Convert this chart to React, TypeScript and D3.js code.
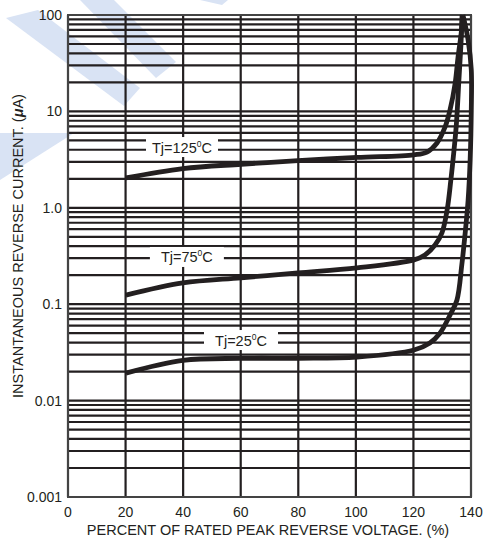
import React from "react";
import * as d3 from "d3";

// ---- data ----
const xTicks = [0, 20, 40, 60, 80, 100, 120, 140];
const yDecades = [100, 10, 1, 0.1, 0.01, 0.001];
const yTickLabels = ["100", "10", "1.0", "0.1", "0.01", "0.001"];

const v125 = [20.1, 39.9, 60.1, 79.9, 100.4, 120.2, 124.7, 128.2, 131.0, 132.7, 134.5, 135.5, 136.6, 137.1];
const i125 = [2.04, 2.55, 2.83, 3.08, 3.33, 3.55, 3.79, 4.7, 6.89, 10.3, 19.7, 36.6, 65, 100];

const v75 = [20.1, 39.9, 60.1, 79.9, 100.4, 120.2, 124.0, 127.5, 129.9, 131.7, 133.0, 134.1, 134.9, 135.8, 136.5, 136.9];
const i75 = [0.124, 0.166, 0.188, 0.211, 0.238, 0.288, 0.324, 0.411, 0.548, 0.948, 1.94, 3.98, 7.23, 21.2, 48.8, 100];

const v25 = [20.1, 39.9, 60.1, 79.9, 100.4, 120.2, 125.7, 129.2, 132.7, 135.1, 136.8, 137.9, 139.0, 139.7, 140.1, 140.1, 139.0, 137.2];
const i25 = [0.0193, 0.0262, 0.0274, 0.0275, 0.0283, 0.0335, 0.0396, 0.05, 0.077, 0.11, 0.255, 0.52, 1.2, 3.13, 10.3, 26.9, 55, 100];

const seriesNames = ["125", "75", "25"];
const labelV = [39.6, 41.3, 60.1];
const labelI = [4.27, 0.309, 0.0425];

const W = 487;
const H = 545;
const ink = "#231f20";
const font = "'Liberation Sans', Arial, Helvetica, sans-serif";

export default function App() {
  const x = d3.scaleLinear().domain([0, 140]).range([68, 471]);
  const y = d3.scaleLog().domain([0.001, 100]).range([497, 15]);

  const minor: number[] = [];
  [0.001, 0.01, 0.1, 1, 10].forEach((d) => {
    for (let k = 1; k <= 9; k++) {
      if (k === 1 && d === 0.001) continue;
      minor.push(k * d);
    }
  });

  const line = d3
    .line<[number, number]>()
    .x((d) => x(d[0]))
    .y((d) => y(d[1]))
    .curve(d3.curveCatmullRom.alpha(0.5));

  const series = [
    v125.map((v, i) => [v, i125[i]] as [number, number]),
    v75.map((v, i) => [v, i75[i]] as [number, number]),
    v25.map((v, i) => [v, i25[i]] as [number, number]),
  ];

  const wm = "#d9e3f4";

  return (
    <svg width={W} height={H} style={{ position: "absolute", left: 0, top: 0, background: "#fff" }}>
      {/* watermark */}
      <g fill={wm}>
        <polygon points="6,18 38,10 140,88 124,106" />
        <polygon points="80,0 114,0 176,62 156,78" />
        <polygon points="0,133 74,133 0,180" />
        <polygon points="200,0 228,0 222,5" />
      </g>

      {/* grid */}
      <g stroke={ink} strokeWidth={2.2}>
        {minor.map((m, i) => (
          <line key={i} x1={x(0)} x2={x(140)} y1={y(m)} y2={y(m)} />
        ))}
        {xTicks.map((t) => (
          <line key={"v" + t} x1={x(t)} x2={x(t)} y1={y(100)} y2={y(0.001)} />
        ))}
      </g>
      <rect x={x(0)} y={y(100)} width={x(140) - x(0)} height={y(0.001) - y(100)} fill="none" stroke="#444" strokeWidth={2} />

      {/* curve labels */}
      {seriesNames.map((n, i) => {
        const cx = x(labelV[i]);
        const cy = y(labelI[i]);
        const bw = n.length === 3 ? 72 : 74;
        return (
          <g key={n}>
            <rect x={cx - bw / 2} y={cy - 10} width={bw} height={20} fill="#fff" />
            <text x={cx} y={cy + 5.5} textAnchor="middle" fontFamily={font} fontSize={14.5} fill={ink}>
              {"Tj=" + n}
              <tspan fontSize={8.5} dy={-6}>0</tspan>
              <tspan dy={6}>C</tspan>
            </text>
          </g>
        );
      })}

      {/* curves */}
      {series.map((s, i) => (
        <path key={i} d={line(s) || ""} fill="none" stroke={ink} strokeWidth={4.8} strokeLinecap="butt" />
      ))}

      {/* y tick labels */}
      {yDecades.map((d, i) => (
        <text key={d} x={62} y={y(d) + 5} textAnchor="end" fontFamily={font} fontSize={14} fill={ink}>
          {yTickLabels[i]}
        </text>
      ))}
      {/* x tick labels */}
      {xTicks.map((t) => (
        <text key={t} x={x(t)} y={517} textAnchor="middle" fontFamily={font} fontSize={14} fill={ink}>
          {t}
        </text>
      ))}

      <text x={268} y={535} textAnchor="middle" fontFamily={font} fontSize={14.5} fill={ink}>
        PERCENT OF RATED PEAK REVERSE VOLTAGE. (%)
      </text>
      <text
        transform={`translate(23,246) rotate(-90)`}
        textAnchor="middle"
        fontFamily={font}
        fontSize={14.5}
        fill={ink}
      >
        INSTANTANEOUS REVERSE CURRENT. (
        <tspan fontWeight="bold" fontStyle="italic">μ</tspan>A)
      </text>
    </svg>
  );
}
